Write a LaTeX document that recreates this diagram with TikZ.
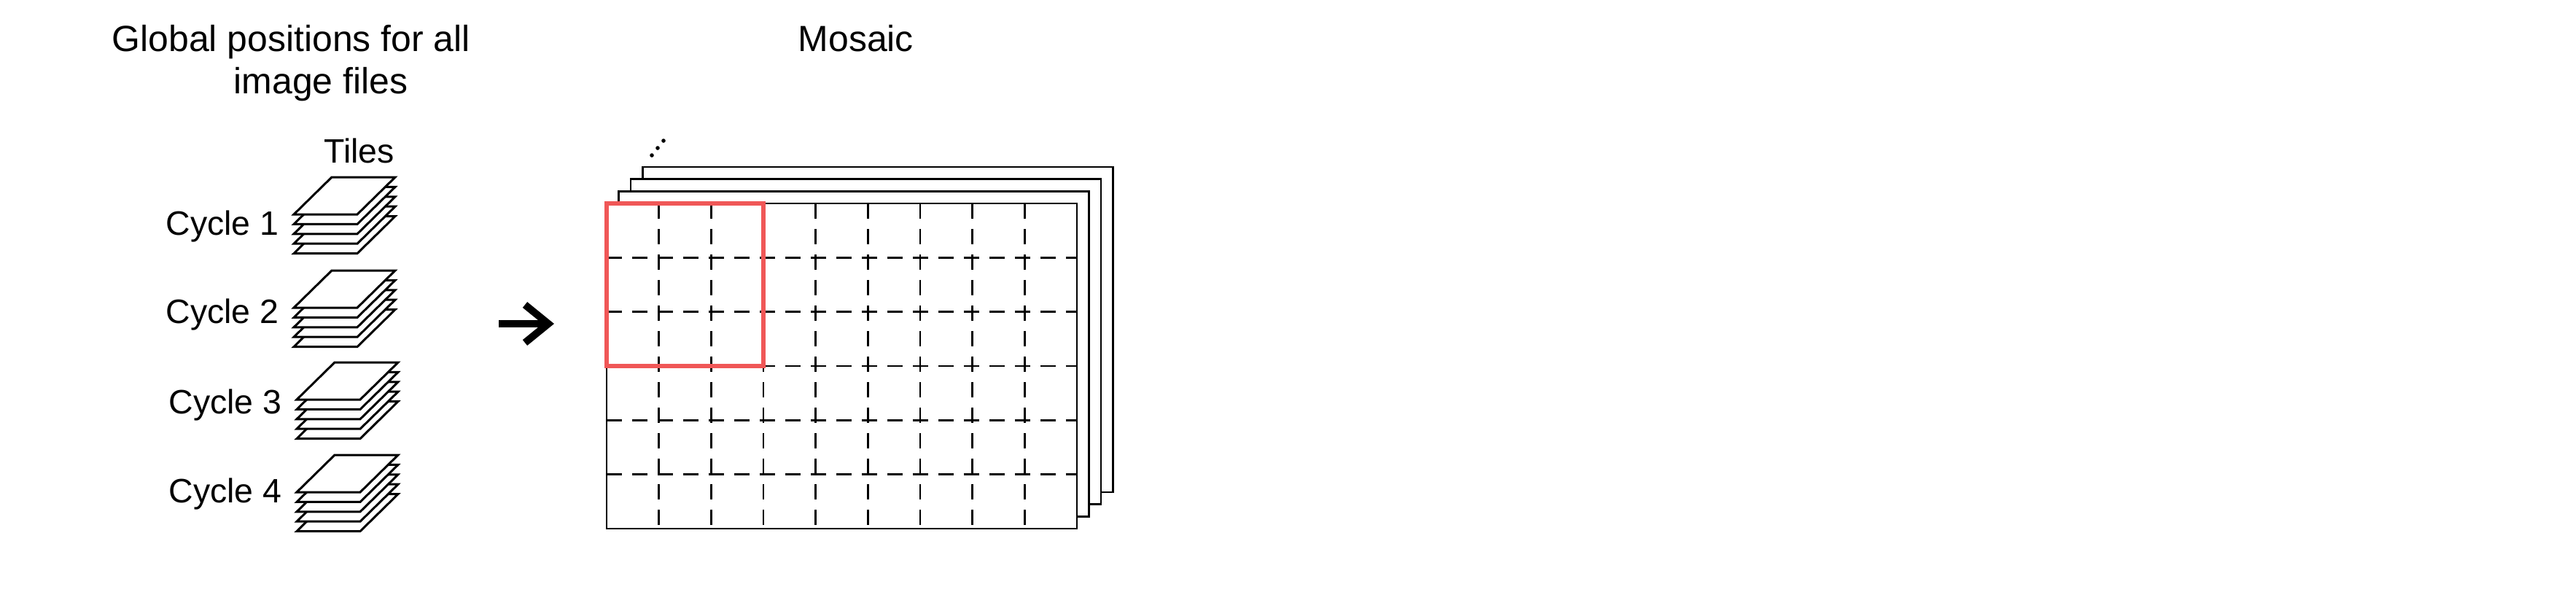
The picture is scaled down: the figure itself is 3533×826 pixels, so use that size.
\documentclass[tikz,border=0pt]{standalone}
\usepackage{fontspec}
\setmainfont{Liberation Sans}
\usetikzlibrary{calc}
\definecolor{tilered}{RGB}{240,87,87}
\begin{document}
\begin{tikzpicture}[x=0.01cm,y=-0.01cm,
  ttl/.style={anchor=base west, inner sep=0pt, font=\fontsize{14.2}{17}\selectfont},
  cyclab/.style={anchor=base west, inner sep=0pt, font=\fontsize{13.2}{16}\selectfont},
  sheet/.style={draw=black, fill=white, line width=0.85pt},
  frame/.style={draw=black, fill=white, line width=0.8pt},
  gridline/.style={draw=black, line width=0.8pt, dash pattern=on 5.97pt off 3.98pt},
  redbox/.style={draw=tilered, line width=1.71pt},
  arrowline/.style={draw=black, line width=2.85pt, miter limit=10}]
\useasboundingbox (0,0) rectangle (3533,826);
\fill[white] (0,0) rectangle (3533,826);

% titles
\node[ttl] (t1) at (153,70) {Global positions for all};
\node[ttl] (t2) at (320,128) {image files};
\node[ttl] (t3) at (1094,70) {Mosaic};
\node[cyclab] (tiles) at (444,223) {Tiles};

% cycle labels
\node[cyclab] (c1) at (227,322) {Cycle 1};
\node[cyclab] (c2) at (227,443) {Cycle 2};
\node[cyclab] (c3) at (231,567) {Cycle 3};
\node[cyclab] (c4) at (231,689) {Cycle 4};

% tile stacks
\foreach \by/\xs in {294/0, 422/0, 548/4, 675/4} {
  \foreach \j in {4,3,2,1,0} {
    \draw[sheet] ({403+\xs},{\by+13.4*\j}) -- ++(87,0) -- ++(52,-51) -- ++(-87,0) -- cycle;
  }
}

% arrow
\coordinate (arrS) at (684,444);
\coordinate (arrE) at (752,444);
\draw[arrowline] (arrS) -- (arrE);
\draw[arrowline] ($(arrE)+(-32,-26)$) -- (arrE) -- ($(arrE)+(-32,26)$);

% back frames
\foreach \k in {3,2,1} {
  \draw[frame] ({832+16.5*\k},{279-16.7*\k}) rectangle ++(645,446);
}
% main frame
\draw[frame] (832,279) rectangle (1477,725);
\foreach \i in {1,...,8} {
  \draw[gridline] ({832+71.667*\i},279) -- ++(0,446);
}
\foreach \i in {1,...,5} {
  \draw[gridline] (832,{279+74.333*\i}) -- ++(645,0);
}
% red selection box
\draw[redbox] (832,279) rectangle ({832+3*71.667},{279+3*74.333});

% dots
\fill (894,213) circle (2.8);
\fill (902,203) circle (2.8);
\fill (910,193) circle (2.8);
\end{tikzpicture}
\end{document}
